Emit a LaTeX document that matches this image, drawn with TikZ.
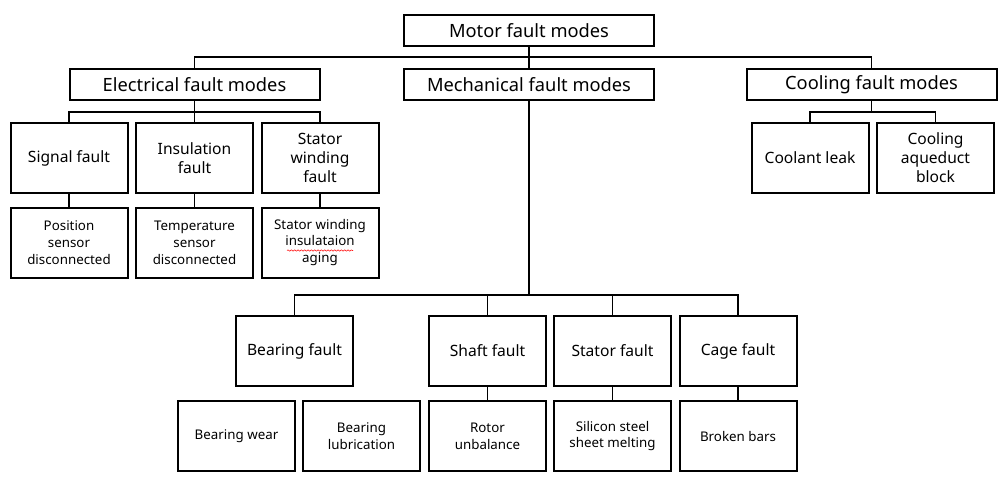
\documentclass[tikz,border=0pt]{standalone}
\usepackage{fontspec}
\setmainfont{Noto Sans}
\usetikzlibrary{positioning,decorations.pathmorphing}
\tikzset{
    basic/.style = {draw, rectangle, line width=1.5pt, align=center, inner sep=0pt},
    group/.style = {basic, minimum width=187.5pt, minimum height=23.25pt, font=\fontsize{13.7}{16}\selectfont},
    fault/.style = {basic, minimum width=87.75pt, minimum height=52.5pt, font=\fontsize{11.7}{14.3}\selectfont},
    cause/.style = {basic, minimum width=87.75pt, minimum height=52.5pt, font=\fontsize{10}{12.7}\selectfont},
    link/.style  = {draw, line width=1.2pt}
}
\begin{document}
\begin{tikzpicture}[x=0.75pt, y=-0.75pt]
	\useasboundingbox (0,0) rectangle (1005,481);
	% fault groups
	\node[group] (motor) at (529,30.5) {Motor fault modes};
	\node[group] (elec) at (194.5,84.5) {Electrical fault modes};
	\node[group] (mech) at (529,84.5) {Mechanical fault modes};
	\node[group] (cool) at (871.5,84.5) {Cooling fault modes};
	% electrical
	\node[fault] (signal) at (69,158) {Signal fault};
	\node[fault] (insul) at (194.5,158) {Insulation\\fault};
	\node[fault] (winding) at (320,158) {Stator\\winding\\fault};
	\node[cause] (position) at (69,242.5) {Position\\sensor\\disconnected};
	\node[cause] (temp) at (194.5,242.5) {Temperature\\sensor\\disconnected};
	\node[cause] (aging) at (320,242.5) {Stator winding\\insulataion\\aging};
	% cooling
	\node[fault] (coolant) at (810,158) {Coolant leak};
	\node[fault] (aqueduct) at (935.5,158) {Cooling\\aqueduct\\block};
	% mechanical
	\node[fault] (bearing) at (294.5,351) {Bearing fault};
	\node[fault] (shaft) at (487.5,351) {Shaft fault};
	\node[fault] (stator) at (612.5,351) {Stator fault};
	\node[fault] (cage) at (738,351) {Cage fault};
	\node[cause] (wear) at (236.5,436) {Bearing wear};
	\node[cause] (lubric) at (361.5,436) {Bearing\\lubrication};
	\node[cause] (rotor) at (487.5,436) {Rotor\\unbalance};
	\node[cause] (silicon) at (612.5,436) {Silicon steel\\sheet melting};
	\node[cause] (broken) at (738,436) {Broken bars};

	\coordinate (topbus) at (529,57);
	\coordinate (ebus) at (194.5,112);
	\coordinate (cbus) at (871.5,112);
	\coordinate (mbus) at (529,295);

	\path[link] (motor.south) -- (mech.north);
	\path[link] (elec.north) |- (topbus) -| (cool.north);
	\path[link] (elec.south) -- (insul.north);
	\path[link] (signal.north) |- (ebus) -| (winding.north);
	\path[link] (signal.south) -- (position.north);
	\path[link] (insul.south) -- (temp.north);
	\path[link] (winding.south) -- (aging.north);
	\path[link] (cool.south) -- (cbus);
	\path[link] (coolant.north) |- (cbus) -| (aqueduct.north);
	\path[link] (mech.south) -- (mbus);
	\path[link] (bearing.north) |- (mbus) -| (cage.north);
	\path[link] (shaft.north) -- (shaft.north |- mbus);
	\path[link] (stator.north) -- (stator.north |- mbus);
	\path[link] (shaft.south) -- (rotor.north);
	\path[link] (stator.south) -- (silicon.north);
	\path[link] (cage.south) -- (broken.north);

	\draw[red, line width=0.4pt, decorate, decoration={snake, amplitude=0.5pt, segment length=2.5pt}]
		([shift={(-33,8)}]aging.center) -- ([shift={(33,8)}]aging.center);
\end{tikzpicture}
\end{document}
